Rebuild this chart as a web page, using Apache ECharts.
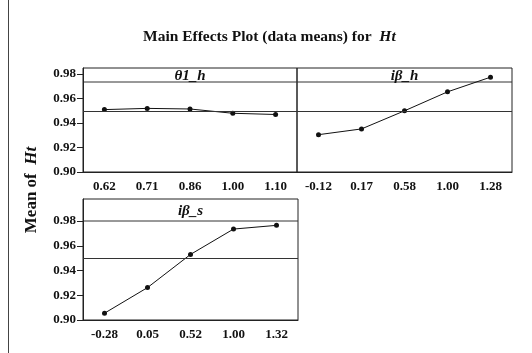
<!DOCTYPE html>
<html>
<head>
<meta charset="utf-8">
<script src="https://cdn.jsdelivr.net/npm/echarts@6/dist/echarts.min.js"></script>
<style>
  html, body { margin: 0; padding: 0; background: #fff; }
  #main { width: 532px; height: 353px; }
</style>
</head>
<body>
<div id="main"></div>
<script>
// 三个因子的水平及对应均值
const levelsTheta1h = ["0.62", "0.71", "0.86", "1.00", "1.10"]
const meansTheta1h = [0.951, 0.952, 0.9515, 0.948, 0.947]

const levelsIbh = ["-0.12", "0.17", "0.58", "1.00", "1.28"]
const meansIbh = [0.9305, 0.9352, 0.950, 0.9655, 0.9775]

const levelsIbs = ["-0.28", "0.05", "0.52", "1.00", "1.32"]
const meansIbs = [0.9055, 0.9262, 0.9530, 0.9735, 0.9765]

const panelTitles = ["θ1_h", "iβ_h", "iβ_s"]
const yTicks = [0.90, 0.92, 0.94, 0.96, 0.98]
const grandMean = 0.9505

const FONT = "Liberation Serif"
const chart = echarts.init(document.getElementById("main"))

// 面板位置
const panels = [
  { left: 83, top: 68, width: 214, height: 104, max: 0.985, strip: 82, yLabels: true },
  { left: 297, top: 68, width: 215, height: 104, max: 0.985, strip: 82, yLabels: false },
  { left: 83, top: 199, width: 215, height: 121, max: 0.9978, strip: 221, yLabels: true }
]
const levels = [levelsTheta1h, levelsIbh, levelsIbs]
const means = [meansTheta1h, meansIbh, meansIbs]

const grid = panels.map((p) => ({
  left: p.left, top: p.top, width: p.width, height: p.height,
  show: true, borderColor: "#222", borderWidth: 1, backgroundColor: "transparent"
}))

const xAxis = panels.map((p, i) => ({
  type: "category",
  gridIndex: i,
  data: levels[i],
  boundaryGap: true,
  axisLine: { lineStyle: { color: "#222", width: 1 } },
  axisTick: { alignWithLabel: true, length: 4, lineStyle: { color: "#222" } },
  axisLabel: { fontFamily: FONT, fontWeight: "bold", fontSize: 13, color: "#111", margin: 8 }
}))

const yAxis = panels.map((p, i) => ({
  type: "value",
  gridIndex: i,
  min: 0.90,
  max: p.max,
  interval: 0.02,
  splitLine: { show: false },
  axisLine: { show: p.yLabels, lineStyle: { color: "#222" } },
  axisTick: { show: p.yLabels, length: 6, customValues: yTicks, lineStyle: { color: "#222" } },
  axisLabel: {
    show: p.yLabels, customValues: yTicks, fontFamily: FONT, fontWeight: "bold",
    fontSize: 13, color: "#111", margin: 7,
    formatter: (v) => v.toFixed(2)
  }
}))

const series = panels.map((p, i) => ({
  type: "line",
  xAxisIndex: i,
  yAxisIndex: i,
  data: means[i],
  symbol: "circle",
  symbolSize: 5,
  itemStyle: { color: "#111" },
  lineStyle: { color: "#111", width: 1 },
  animation: false,
  markLine: {
    silent: true,
    symbol: "none",
    label: { show: false },
    lineStyle: { color: "#333", width: 1, type: "solid" },
    data: [{ yAxis: grandMean }]
  }
}))

// 条带（面板标题）
const graphics = []
panels.forEach((p, i) => {
  graphics.push({
    type: "line",
    shape: { x1: p.left, y1: p.strip, x2: p.left + p.width, y2: p.strip },
    style: { stroke: "#333", lineWidth: 1 }
  })
  graphics.push({
    type: "text",
    x: p.left + p.width / 2,
    y: (p.top + p.strip) / 2 + 1,
    style: {
      text: panelTitles[i], font: "italic bold 15px " + FONT,
      fill: "#111", align: "center", verticalAlign: "middle"
    }
  })
})
// 左侧竖线
graphics.push({
  type: "line",
  shape: { x1: 8.5, y1: 0, x2: 8.5, y2: 353 },
  style: { stroke: "#444", lineWidth: 1 }
})
// 纵轴标题
graphics.push({
  type: "text",
  x: 32,
  y: 190,
  rotation: Math.PI / 2,
  style: {
    text: "Mean of  {i|Ht}",
    font: "bold 17px " + FONT,
    fill: "#111",
    align: "center",
    verticalAlign: "middle",
    rich: { i: { font: "italic bold 17px " + FONT, fill: "#111" } }
  }
})

chart.setOption({
  animation: false,
  backgroundColor: "#fff",
  title: {
    text: "Main Effects Plot (data means) for  {i|Ht}",
    left: 138,
    top: 24,
    textStyle: {
      fontFamily: FONT, fontWeight: "bold", fontSize: 15.5, color: "#111",
      rich: { i: { fontFamily: FONT, fontStyle: "italic", fontWeight: "bold", fontSize: 15.5, color: "#111" } }
    }
  },
  grid,
  xAxis,
  yAxis,
  series,
  graphic: graphics
})
</script>
</body>
</html>
